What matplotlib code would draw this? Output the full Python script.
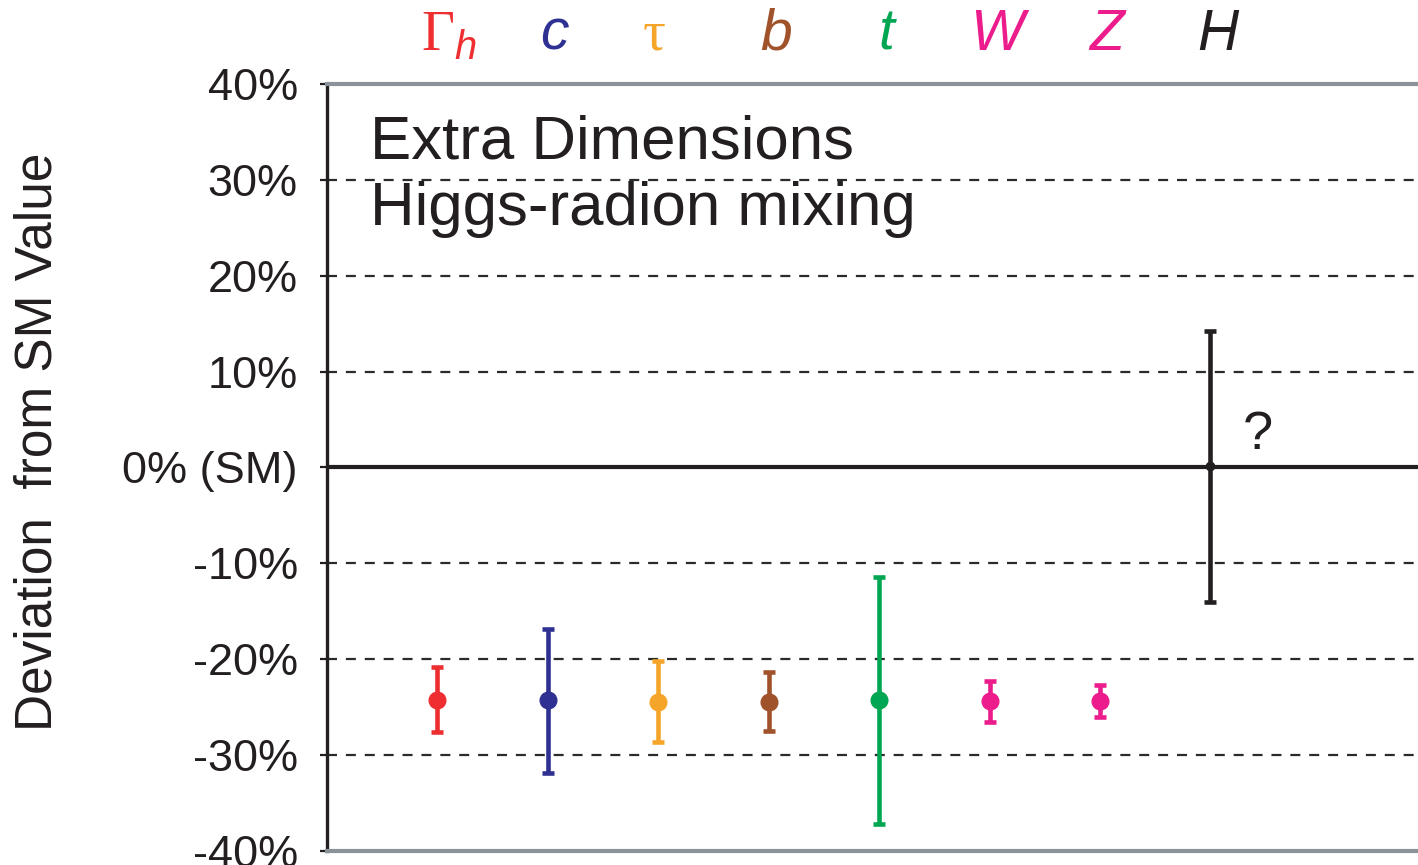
import matplotlib.pyplot as plt

plt.rcParams['font.family'] = ['Liberation Sans', 'DejaVu Sans']
plt.rcParams['mathtext.fontset'] = 'custom'
plt.rcParams['mathtext.rm'] = 'Liberation Serif'
plt.rcParams['mathtext.it'] = 'Liberation Sans:italic'

# couplings and their deviation from the SM (%)
names = [r'$\Gamma_h$', 'c', '\u03c4', 'b', 't', 'W', 'Z', 'H']
xpos = [1, 2, 3, 4, 5, 6, 7, 8]
central = [-24.3, -24.3, -24.5, -24.5, -24.3, -24.4, -24.4, 0.2]
upper = [-20.8, -16.8, -20.2, -21.3, -11.4, -22.3, -22.7, 14.2]
lower = [-27.6, -31.9, -28.6, -27.5, -37.2, -26.5, -26.0, -14.0]
colors = ['#EE2E30', '#2E3192', '#F5A62A', '#A0522A', '#00A651',
          '#EC1C8C', '#EC1C8C', '#231F20']

yticks = [40, 30, 20, 10, 0, -10, -20, -30, -40]
yticklabels = ['40%', '30%', '20%', '10%', '0% (SM)', '-10%', '-20%', '-30%', '-40%']

fig = plt.figure(figsize=(14.18, 8.65), dpi=100)
ax = fig.add_axes([0.2306, 0.0162, 0.7694, 0.8867])
ax.set_xlim(0, 9.88)
ax.set_ylim(-40, 40)

# dashed guide lines
for y in [30, 20, 10, -10, -20, -30]:
    ax.axhline(y, color='#2b2b2b', lw=1.6, ls=(0, (4.5, 4)), zorder=1)
ax.axhline(0, color='#231F20', lw=3, zorder=2)

for i in range(len(xpos)):
    yerr = [[central[i] - lower[i]], [upper[i] - central[i]]]
    ms = 6 if names[i] == 'H' else 12
    ax.errorbar(xpos[i], central[i], yerr=yerr, fmt='o', color=colors[i],
                ms=ms, elinewidth=3.3, capsize=4.4, capthick=3.3, zorder=3)
    # label above the frame
    if names[i] == '\u03c4':
        label_font, style, dx = 'Liberation Serif', 'normal', -3
    elif i == 0:
        label_font, style, dx = 'Liberation Sans', 'italic', 8
    else:
        label_font, style, dx = 'Liberation Sans', 'italic', 5
    ax.annotate(names[i], xy=(xpos[i], 1), xycoords=('data', 'axes fraction'),
                xytext=(dx, 24.5), textcoords='offset points', ha='center',
                va='baseline', fontsize=41, color=colors[i],
                family=label_font, style=style, annotation_clip=False)

ax.text(8.43, 1.9, '?', fontsize=39, ha='center', va='baseline', color='#231F20')

ax.text(0.039, 0.9035, 'Extra Dimensions', transform=ax.transAxes,
        fontsize=44.5, va='baseline', color='#231F20')
ax.text(0.039, 0.816, 'Higgs-radion mixing', transform=ax.transAxes,
        fontsize=44.5, va='baseline', color='#231F20')

ax.set_yticks(yticks)
ax.set_yticklabels(yticklabels, fontsize=32.5, color='#231F20')
ax.set_xticks([])
ax.tick_params(axis='y', direction='out', length=5, width=1.6, pad=16,
               colors='#231F20')

ax.spines['left'].set_color('#231F20')
ax.spines['left'].set_linewidth(2.4)
ax.spines['top'].set_color('#8A9399')
ax.spines['top'].set_linewidth(3)
ax.spines['bottom'].set_color('#8A9399')
ax.spines['bottom'].set_linewidth(3)
ax.spines['right'].set_visible(False)

fig.text(38 / 1418, 0.489, 'Deviation  from SM Value', rotation=90,
         ha='center', va='center', fontsize=37, color='#231F20')

fig.savefig('out.png', dpi=100)
